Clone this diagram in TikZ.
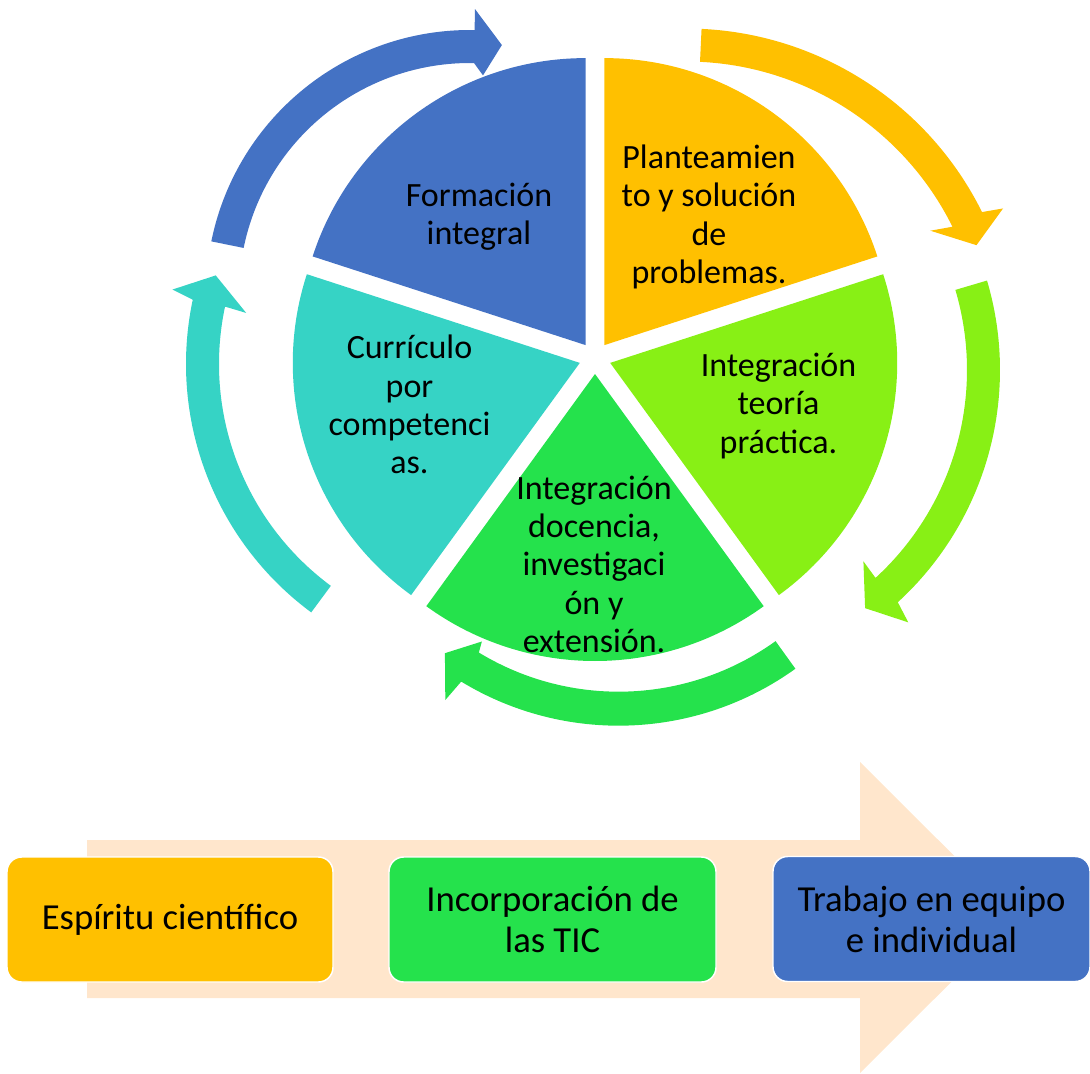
\documentclass[tikz,border=0pt]{standalone}
\usepackage{fontspec}
\setmainfont{Carlito}
\definecolor{bluec}{HTML}{4472C4}
\definecolor{orangec}{HTML}{FFC000}
\definecolor{limec}{HTML}{88F015}
\definecolor{greenc}{HTML}{25E24C}
\definecolor{tealc}{HTML}{36D3C5}
\definecolor{peach}{HTML}{FFE6CC}
\begin{document}
\begin{tikzpicture}[x=.75pt, y=-.75pt,
	seg/.style={font=\fontsize{25.5}{28.7}\selectfont, align=center, inner sep=0pt},
	stepbox/.style={draw=white, line width=1.1pt, rounded corners=11pt, minimum height=93.75pt,
		font=\fontsize{27.5}{30.7}\selectfont, align=center}]
	\useasboundingbox (0,0) rectangle (1090,1074);
	\fill[bluec]   (585.6,345.1) -- ++(-162:287) arc[start angle=-162, end angle=-90, radius=287] -- cycle;
	\fill[orangec] (604.4,345.1) -- ++(-90:287)  arc[start angle=-90,  end angle=-18, radius=287] -- cycle;
	\fill[limec]   (610.2,362.9) -- ++(-18:287)  arc[start angle=-18,  end angle=54,  radius=287] -- cycle;
	\fill[greenc]  (595,374)     -- ++(54:287)   arc[start angle=54,   end angle=126, radius=287] -- cycle;
	\fill[tealc]   (579.8,362.9) -- ++(126:287)  arc[start angle=126,  end angle=198, radius=287] -- cycle;
	\fill[bluec,   shift={(470,294)}]     (-168.5:264)   arc[start angle=-168.5, end angle=-89,   radius=264]   -- (-89:285)    -- (-82.7:251)   -- (-86.6:219)   -- (-89:231)     arc[start angle=-89,   end angle=-168.5, radius=231]   -- cycle;
	\fill[orangec, shift={(686,359)}]     (-87.3:330.5)  arc[start angle=-87.3,  end angle=-26.4, radius=330.5] -- (-25.4:351)   -- (-21.4:312)   -- (-27.7:276)   -- (-26.4:297.5) arc[start angle=-26.4, end angle=-87.3,  radius=297.5] -- cycle;
	\fill[limec,   shift={(685,370)}]     (-16.5:315)    arc[start angle=-16.5,  end angle=47.5,  radius=315]   -- (48.5:337)    -- (52.9:298.6)  -- (47:261.6)    -- (47.5:282)    arc[start angle=47.5,  end angle=-16.5,  radius=282]   -- cycle;
	\fill[greenc,  shift={(618.6,422.7)}] (54.3:303)     arc[start angle=54.3,   end angle=121.3, radius=303]   -- (122:327)     -- (127:288.6)   -- (122:258)     -- (121.3:269)   arc[start angle=121.3, end angle=54.3,   radius=269]   -- cycle;
	\fill[tealc,   shift={(495,364)}]     (126.5:309)    arc[start angle=126.5,  end angle=192,   radius=309]   -- (193:331)     -- (197.6:293)   -- (191.6:254)   -- (192:276)     arc[start angle=192,   end angle=126.5,  radius=276]   -- cycle;
	\node[seg] (formacion)     at (479,217)     {Formación\\integral};
	\node[seg] (planteamiento) at (709,217)     {Planteamien\\to y solución\\de\\problemas.};
	\node[seg] (teoria)        at (778.5,406)   {Integración\\teoría\\práctica.};
	\node[seg] (docencia)      at (594,564.4)   {Integración\\docencia,\\investigaci\\ón y\\extensión.};
	\node[seg] (curriculo)     at (409.5,404.5) {Currículo\\por\\competenci\\as.};
	\fill[peach] (87,840) -- (860,840) -- (860,762) -- (1016,917.5) -- (860,1073) -- (860,998) -- (87,998) -- cycle;
	\node[stepbox, fill=orangec, minimum width=244.5pt]  (espiritu) at (170,919.5)   {Espíritu científico};
	\node[stepbox, fill=greenc,  minimum width=245.25pt] (tic)      at (552.5,919.5) {Incorporación de\\las TIC};
	\node[stepbox, fill=bluec,   minimum width=237.75pt] (equipo)   at (931.5,919)   {Trabajo en equipo\\e individual};
\end{tikzpicture}
\end{document}
